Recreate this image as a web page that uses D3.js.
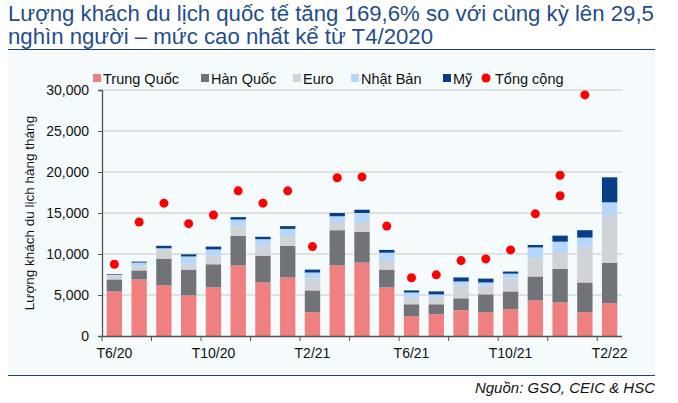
<!DOCTYPE html>
<html><head><meta charset="utf-8">
<script src="https://cdn.jsdelivr.net/npm/d3@7"></script>
<style>body{margin:0;background:#fff;font-family:"Liberation Sans",Arial,sans-serif}</style>
</head><body><svg id="c" width="678" height="403"></svg>
<script>
var months = ["T6/20","T7/20","T8/20","T9/20","T10/20","T11/20","T12/20","T1/21","T2/21","T3/21","T4/21","T5/21","T6/21","T7/21","T8/21","T9/21","T10/21","T11/21","T12/21","T1/22","T2/22"];
var tickLabels = ["T6/20","T10/20","T2/21","T6/21","T10/21","T2/22"];
var trungQuoc = [5440,6900,6170,4960,5930,8600,6530,7140,2900,8600,8950,5930,2400,2660,3150,2900,3270,4350,4100,2900,4000];
var hanQuoc   = [1460,1100,3270,3140,2820,3600,3270,3860,2660,4300,3750,2170,1470,1210,1450,2180,2170,2910,4100,3630,4950];
var euro      = [500,500,1160,730,1050,1200,1200,1200,1440,1000,1200,1170,830,830,1570,1090,1560,2240,2040,4370,5800];
var nhatBan   = [60,450,100,870,760,800,800,860,740,700,1100,890,600,380,480,360,600,1300,1260,1100,1550];
var my        = [80,120,300,260,340,300,300,340,360,400,400,340,260,360,490,470,260,300,740,900,3050];
var tongCong  = [8750,13900,16200,13700,14750,17700,16200,17700,10900,19300,19400,13400,7100,7460,9200,9400,10500,14900,17100,29400,null];
var tongCongExtra = [{i:18, v:19600}];

var series = [
  {name:"Trung Quốc", data:trungQuoc, color:"#f08080"},
  {name:"Hàn Quốc", data:hanQuoc, color:"#717378"},
  {name:"Euro", data:euro, color:"#d0d3d8"},
  {name:"Nhật Bản", data:nhatBan, color:"#b5d7fb"},
  {name:"Mỹ", data:my, color:"#073f87"}
];

var svg = d3.select("#c");
svg.append("rect").attr("x",8).attr("y",50).attr("width",647).attr("height",325).attr("fill","#f5fafc");
svg.append("line").attr("x1",8).attr("x2",655).attr("y1",49.5).attr("y2",49.5).attr("stroke","#1f3f7a").attr("stroke-width",1.2);
svg.append("line").attr("x1",8).attr("x2",655).attr("y1",375.5).attr("y2",375.5).attr("stroke","#1f3f7a").attr("stroke-width",1.2);

svg.append("text").attr("x",8).attr("y",21).attr("font-size",22.2).attr("fill","#1f4e8c")
  .text("Lượng khách du lịch quốc tế tăng 169,6% so với cùng kỳ lên 29,5");
svg.append("text").attr("x",8).attr("y",44).attr("font-size",22.2).attr("fill","#1f4e8c")
  .text("nghìn người – mức cao nhất kể từ T4/2020");
svg.append("text").attr("x",655).attr("y",393).attr("text-anchor","end").attr("font-size",15)
  .attr("font-style","italic").attr("fill","#111").text("Nguồn: GSO, CEIC & HSC");

var x = d3.scaleBand().domain(months).range([102,622]).paddingInner(0.38).paddingOuter(0.19);
var y = d3.scaleLinear().domain([0,30000]).range([336,90]);

var g = svg.append("g");
g.selectAll(".grid").data(y.ticks(6).slice(1)).enter().append("line")
  .attr("x1",102).attr("x2",622).attr("y1",function(d){return y(d);}).attr("y2",function(d){return y(d);})
  .attr("stroke","#d9d9d9").attr("stroke-width",1.5);

var stack = d3.stack().keys(d3.range(series.length)).value(function(d,k){return series[k].data[d];});
var layers = stack(d3.range(months.length));
g.selectAll(".layer").data(layers).enter().append("g")
  .attr("fill",function(d,k){return series[k].color;})
  .selectAll("rect").data(function(d){return d;}).enter().append("rect")
  .attr("x",function(d,i){return x(months[i]);}).attr("width",x.bandwidth())
  .attr("y",function(d){return y(d[1]);}).attr("height",function(d){return y(d[0])-y(d[1]);});

var dots = tongCong.map(function(v,i){return {i:i,v:v};}).filter(function(d){return d.v!=null;}).concat(tongCongExtra);
g.selectAll(".dot").data(dots).enter().append("circle")
  .attr("cx",function(d){return x(months[d.i])+x.bandwidth()/2;}).attr("cy",function(d){return y(d.v);})
  .attr("r",4.5).attr("fill","#ff0000");

// axes
var ya = d3.axisLeft(y).ticks(6).tickSize(4).tickPadding(9).tickFormat(d3.format(","));
var yg = svg.append("g").attr("transform","translate(102,0)").call(ya);
yg.select(".domain").attr("stroke","#555").attr("stroke-width",1.3);
yg.selectAll(".tick line").attr("stroke","#555");
yg.selectAll("text").attr("font-size",14).attr("fill","#111").attr("font-family","Liberation Sans, Arial");

var xg = svg.append("g");
xg.append("line").attr("x1",102).attr("x2",622).attr("y1",336.5).attr("y2",336.5).attr("stroke","#555").attr("stroke-width",1.3);
xg.selectAll(".xt").data(d3.range(0,months.length+1,2)).enter().append("line")
  .attr("x1",function(d){return 102+d*520/21;}).attr("x2",function(d){return 102+d*520/21;})
  .attr("y1",336).attr("y2",341).attr("stroke","#555");
xg.selectAll(".xl").data(tickLabels).enter().append("text")
  .attr("x",function(d){return x(d)+x.bandwidth()/2;}).attr("y",358).attr("text-anchor","middle")
  .attr("font-size",14).attr("fill","#111").text(function(d){return d;});

svg.append("text").attr("transform","translate(34,213) rotate(-90)").attr("text-anchor","middle")
  .attr("font-size",13.5).attr("fill","#111").text("Lượng khách du lịch hàng tháng");

// legend
var legX = [93,201,293,351,443];
series.forEach(function(s,k){
  svg.append("rect").attr("x",legX[k]).attr("y",74).attr("width",8).attr("height",8).attr("fill",s.color);
  svg.append("text").attr("x",legX[k]+10).attr("y",84).attr("font-size",14.5).attr("fill","#111").text(s.name);
});
svg.append("circle").attr("cx",486).attr("cy",78).attr("r",4.5).attr("fill","#ff0000");
svg.append("text").attr("x",495).attr("y",84).attr("font-size",14.5).attr("fill","#111").text("Tổng cộng");
</script></body></html>
